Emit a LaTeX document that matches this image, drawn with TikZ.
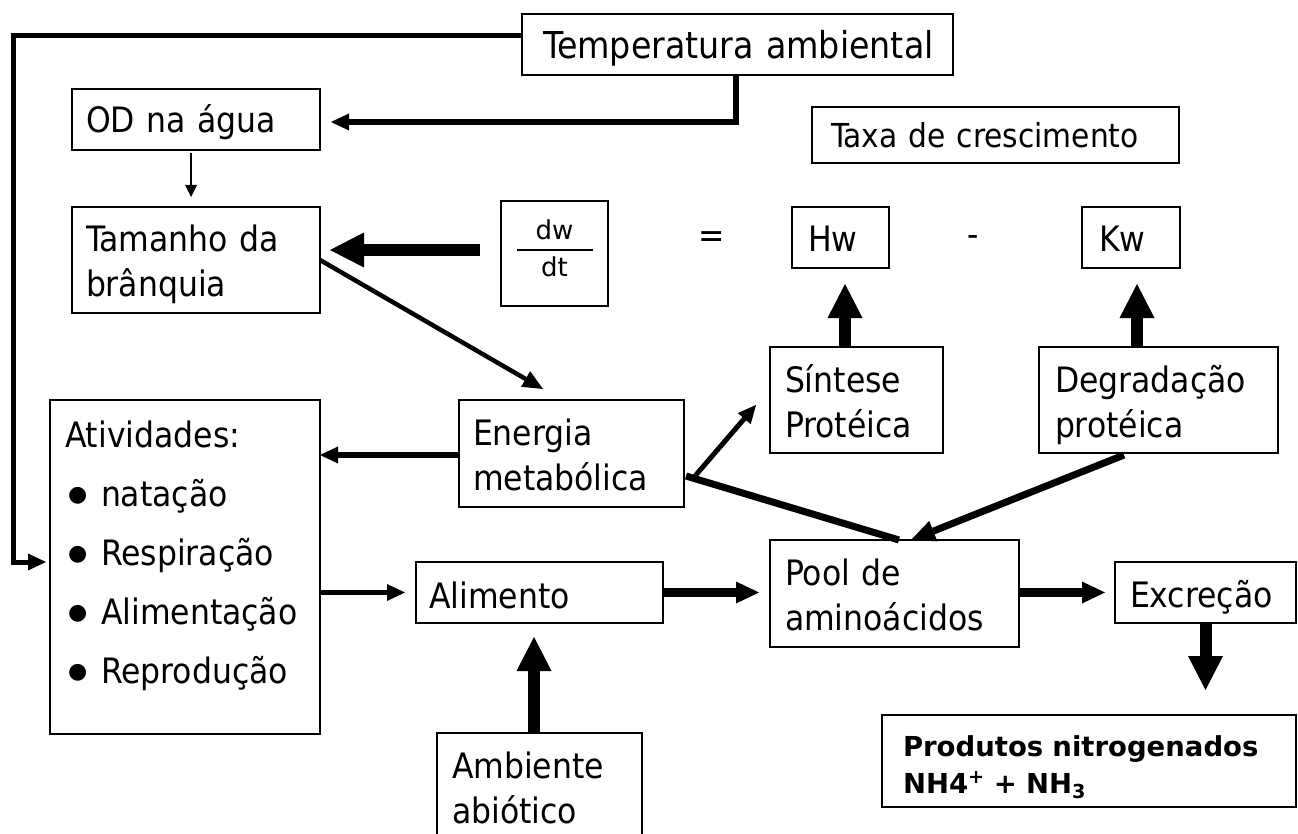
\documentclass[tikz,border=0pt]{standalone}
\usepackage{fontspec}
\setmainfont{DejaVu Sans Condensed}
\newfontfamily\widefont{DejaVu Sans}
\usetikzlibrary{arrows.meta}
\lefthyphenmin=62
\newcommand{\bul}{\makebox[36pt][l]{\hspace*{3pt}\raisebox{5pt}{\widefont\fontsize{22}{22}\selectfont ●}}}
\begin{document}
\begin{tikzpicture}[x=1pt,y=-1pt,
  box/.style={draw, line width=1.3pt, inner ysep=0pt, outer sep=0pt, anchor=north west,
    align=left, font=\fontsize{35}{45}\selectfont},
  sign/.style={inner sep=0pt, font=\fontsize{35}{45}\selectfont},
  thin arrow/.style={line width=1.5pt, -{Triangle[length=12pt,width=12pt,line width=0pt]}},
  med arrow/.style={line width=5.5pt, -{Triangle[length=18pt,width=17pt,line width=0pt]}},
  diag arrow/.style={line width=4.5pt, -{Triangle[length=20pt,width=18pt,line width=0pt]}},
  thick arrow/.style={line width=9pt, -{Triangle[length=23pt,width=22pt,line width=0pt]}},
  block arrow/.style={line width=12pt, -{Triangle[length=34pt,width=35pt,line width=0pt]}},
  pool arrow/.style={line width=7pt, -{Triangle[length=24pt,width=22pt,line width=0pt]}},
  heavy line/.style={line width=7pt}
]
\useasboundingbox (0,0) rectangle (1298,834);
\fill[white] (0,0) rectangle (1298,834);

% boxes
\node[box, text width=389pt, inner xsep=21pt, text height=45pt, text depth=16pt,
  font=\fontsize{37}{45}\selectfont] (temp) at (522,14) {\mbox{Temperatura ambiental}};
\node[box, text width=220pt, inner xsep=14pt, text height=44pt, text depth=17pt] (od) at (72,89) {\mbox{OD na água}};
\node[box, text width=329pt, inner xsep=19pt, text height=41pt, text depth=15pt,
  font=\fontsize{33}{42}\selectfont] (taxa) at (812,107) {\mbox{Taxa de crescimento}};
\node[box, text width=220pt, inner xsep=14pt, text height=45pt, text depth=61pt] (tam) at (72,207) {\mbox{Tamanho da}\\\mbox{brânquia}};
\node[box, align=center, text width=105pt, inner xsep=1pt, text height=39pt, text depth=66pt,
  font=\widefont\fontsize{26}{26}\selectfont] (dwdt) at (501,201) {dw\\[-15pt]\rule{76pt}{1.5pt}\\dt};
\node[sign] (eq) at (712,240) {=};
\node[box, text width=65pt, inner xsep=16pt, text height=45pt, text depth=16pt] (hw) at (792,207) {Hw};
\node[sign] (minus) at (973,241) {-};
\node[box, text width=64pt, inner xsep=17pt, text height=45pt, text depth=16pt] (kw) at (1082,207) {Kw};
\node[box, text width=143pt, inner xsep=15pt, text height=45pt, text depth=61pt] (sint) at (770,347) {\mbox{Síntese}\\\mbox{Protéica}};
\node[box, text width=207pt, inner xsep=16pt, text height=45pt, text depth=61pt] (degr) at (1039,347) {\mbox{Degradação}\\\mbox{protéica}};
\node[box, text width=197pt, inner xsep=14pt, text height=45pt, text depth=62pt] (ener) at (459,400) {\mbox{Energia}\\\mbox{metabólica}};
\node[box, text width=240pt, inner xsep=15pt, text height=47pt, text depth=287pt] (ativ) at (50,400)
  {\mbox{Atividades:}\\[14pt]\bul natação\\[14pt]\bul Respiração\\[14pt]\bul Alimentação\\[14pt]\bul Reprodução};
\node[box, text width=221pt, inner xsep=13pt, text height=46pt, text depth=15pt] (alim) at (416,562) {\mbox{Alimento}};
\node[box, text width=219pt, inner xsep=15pt, text height=45pt, text depth=62pt] (pool) at (770,540) {\mbox{Pool de}\\\mbox{aminoácidos}};
\node[box, text width=151pt, inner xsep=15pt, text height=45pt, text depth=16pt] (excr) at (1115,562) {\mbox{Excreção}};
\node[box, text width=175pt, inner xsep=15pt, text height=45pt, text depth=82pt] (ambi) at (437,733) {\mbox{Ambiente}\\\mbox{abiótico}};
\node[box, text width=372pt, inner xsep=21pt, text height=41pt, text depth=51pt,
  font=\widefont\bfseries\fontsize{27.5}{37}\selectfont] (prod) at (882,715)
  {\mbox{Produtos nitrogenados}\\\mbox{NH4\textsuperscript{+} + NH\textsubscript{3}}};

% connectors
\coordinate (L1) at (13,36);
\coordinate (L2) at (13,562);
\draw[med arrow, line width=5pt, shorten >=4pt] (temp.west |- L1) -- (L1) -- (L2) -- (ativ.west |- L2);
\coordinate (T1) at (736,122);
\draw[med arrow, shorten >=11pt] (temp.south -| T1) -- (T1) -- (od.east |- T1);
\draw[thin arrow, shorten <=3pt, shorten >=10pt] ([xshift=-5pt]od.south) -- ([xshift=-5pt]tam.north);
\draw[block arrow, shorten <=21pt, shorten >=10pt] ([yshift=3.5pt]dwdt.west) -- ([yshift=3.5pt]dwdt.west -| tam.east);
\draw[diag arrow, shorten >=22pt] (tam.east) -- ([xshift=-9.5pt]ener.north);
\draw[med arrow] ([yshift=-1.5pt]ener.west) -- ([yshift=-1.5pt]ener.west -| ativ.east);
\draw[med arrow, shorten >=11pt] (alim.west -| ativ.east) -- (alim.west);
\draw[thick arrow, shorten >=11pt] (alim.east) -- (alim.east -| pool.west);
\draw[thick arrow, shorten >=10pt] (excr.west -| pool.east) -- (excr.west);
\draw[block arrow, shorten >=25pt] (excr.south) -- (excr.south |- prod.north);
\draw[block arrow, shorten >=14pt] ([xshift=-5.5pt]ambi.north) -- ([xshift=-5.5pt]alim.south);
\draw[block arrow, shorten >=16pt] ([xshift=4.5pt]hw.south |- sint.north) -- ([xshift=4.5pt]hw.south);
\draw[block arrow, shorten >=16pt] ([xshift=6pt]kw.south |- degr.north) -- ([xshift=6pt]kw.south);
\draw[med arrow, line width=5pt] ([shift={(11pt,-22.5pt)}]ener.east) -- ([shift={(-14pt,-5pt)}]sint.west);
\draw[heavy line] ([shift={(2pt,-22.5pt)}]ener.east) -- ([xshift=4.5pt]pool.north);
\draw[pool arrow] ([shift={(-34.5pt,-2pt)}]degr.south) -- ([xshift=16.5pt]pool.north);
\end{tikzpicture}
\end{document}
